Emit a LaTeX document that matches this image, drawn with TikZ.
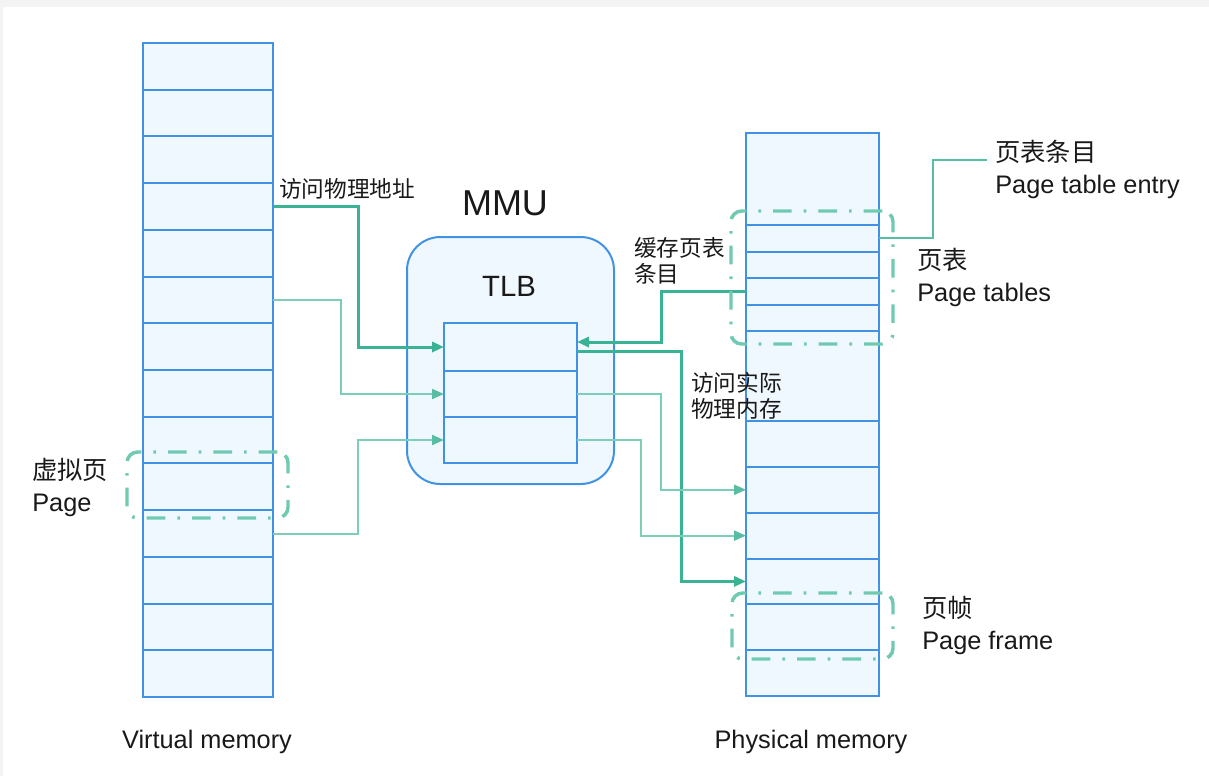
\documentclass[tikz,border=0pt]{standalone}
\usepackage{fontspec}
\setmainfont{Liberation Sans}
\newfontfamily\cjk{Noto Sans CJK SC}
\usetikzlibrary{arrows.meta,calc}
\definecolor{tealdark}{RGB}{58,178,148}
\definecolor{tealmid}{RGB}{88,190,163}
\definecolor{teallight}{RGB}{125,206,185}
\definecolor{dashcol}{RGB}{112,202,178}
\definecolor{blueline}{RGB}{66,146,228}
\definecolor{fillblue}{RGB}{240,248,255}
\definecolor{txt}{RGB}{25,25,25}
\definecolor{bggray}{RGB}{243,243,243}
\tikzset{
  cell/.style={draw=blueline, fill=fillblue, line width=1.5pt, inner sep=0pt, outer sep=0pt},
  vcell/.style={cell, minimum width=97.5pt, minimum height=35.04pt},
  pcell/.style={cell, minimum width=99.75pt},
  tcell/.style={cell, minimum width=99.75pt},
  mmubox/.style={draw=blueline, fill=fillblue, line width=1.5pt, rounded corners=25pt, inner sep=0pt, outer sep=0pt},
  dashbox/.style={draw=dashcol, line width=2.6pt, rounded corners=8pt, inner sep=0pt, outer sep=0pt,
                  dash pattern=on 14pt off 9pt on 2pt off 9pt},
  strongline/.style={draw=tealdark, line width=2.25pt, -{Triangle[length=9pt,width=7.5pt]}},
  lightline/.style={draw=teallight, line width=1.5pt, -{Triangle[length=9pt,width=7.5pt,color=tealmid]}},
  plainline/.style={draw=tealmid, line width=1.5pt},
  smalllabel/.style={text=txt, inner sep=0pt, align=left, font=\cjk\fontsize{17pt}{19.5pt}\selectfont},
  biglabel/.style={text=txt, inner sep=0pt, align=left, font=\fontsize{19pt}{24pt}\selectfont},
  caption/.style={text=txt, inner sep=0pt, font=\fontsize{19pt}{23pt}\selectfont},
}
\begin{document}
\begin{tikzpicture}[x=0.75pt,y=-0.75pt]
\useasboundingbox (0,0) rectangle (1209,776);
\fill[bggray] (0,0) rectangle (1209,776);
\fill[white] (3,7) rectangle (1209,776);

% Virtual memory column
\foreach \i in {0,...,13}
  \node[vcell] (v\i) at (208,{43+46.714*(\i+0.5)}) {};

% Physical memory column
\foreach \a/\b [count=\i from 0] in {133/225,225/251.5,251.5/278,278/304.5,304.5/331,331/421,421/466.8,466.8/512.7,512.7/558.5,558.5/604.3,604.3/650.2,650.2/696}
  \node[pcell, minimum height={(\b-\a)*0.75pt}] (p\i) at (812.5,{(\a+\b)/2}) {};

% MMU and TLB
\node[mmubox, minimum width=155.25pt, minimum height=185.25pt] (mmu) at (510.5,360.5) {};
\node[text=txt, font=\fontsize{27pt}{31pt}\selectfont, inner sep=0pt] (mmulabel) at (505,203) {MMU};
\node[text=txt, font=\fontsize{22pt}{26pt}\selectfont, inner sep=0pt] (tlblabel) at (509,286) {TLB};
\node[tcell, minimum height=36pt] (t1) at (510.5,347) {};
\node[tcell, minimum height=34.5pt] (t2) at (510.5,394) {};
\node[tcell, minimum height=34.5pt] (t3) at (510.5,440) {};

% Connectors: virtual -> TLB
\draw[strongline] (v3.east) -- ++(85,0) |- (t1.west);
\draw[lightline] (v5.east) -- ++(68,0) |- (t2.west);
\draw[lightline] (v10.east) -- ++(85,0) |- (t3.west);

% Connectors: page table -> TLB, TLB -> physical
\draw[strongline] (p3.west) -- ++(-85,0) |- ($(t1.east)+(0,-5)$);
\draw[strongline] ($(t1.east)+(0,4)$) -- ++(104,0) |- (p9.west);
\draw[lightline] (t2.east) -- ++(84,0) |- (p7.west);
\draw[lightline] (t3.east) -- ++(64,0) |- (p8.west);

% Page table entry callout
\coordinate (pteend) at (987,160);
\draw[plainline] (p1.east) -- ++(54,0) |- (pteend);

% Dash-dot groups
\node[dashbox, minimum width=121.5pt, minimum height=99.75pt] (ptgroup) at (812,277.5) {};
\node[dashbox, minimum width=120.75pt, minimum height=49.5pt] (pfgroup) at (812.5,626) {};
\node[dashbox, minimum width=120.75pt, minimum height=49.5pt] (vpgroup) at (207.5,485) {};

% Labels
\node[smalllabel, anchor=west] (lbl1) at (279,189) {访问物理地址};
\node[smalllabel, anchor=north west] (lbl2) at (634,237) {缓存页表\\条目};
\node[smalllabel, anchor=north west] (lbl3) at (691,372) {访问实际\\物理内存};
\node[biglabel, anchor=north west] (pte) at (995,140) {{\cjk 页表条目}\\Page table entry};
\node[biglabel, anchor=north west] (ptl) at (917,248) {{\cjk 页表}\\Page tables};
\node[biglabel, anchor=north west] (pfl) at (922,596) {{\cjk 页帧}\\Page frame};
\node[biglabel, anchor=north west] (vpl) at (32,458) {{\cjk 虚拟页}\\Page};
\node[caption] (vmcap) at (207,742) {Virtual memory};
\node[caption] (pmcap) at (811,742) {Physical memory};
\end{tikzpicture}
\end{document}
